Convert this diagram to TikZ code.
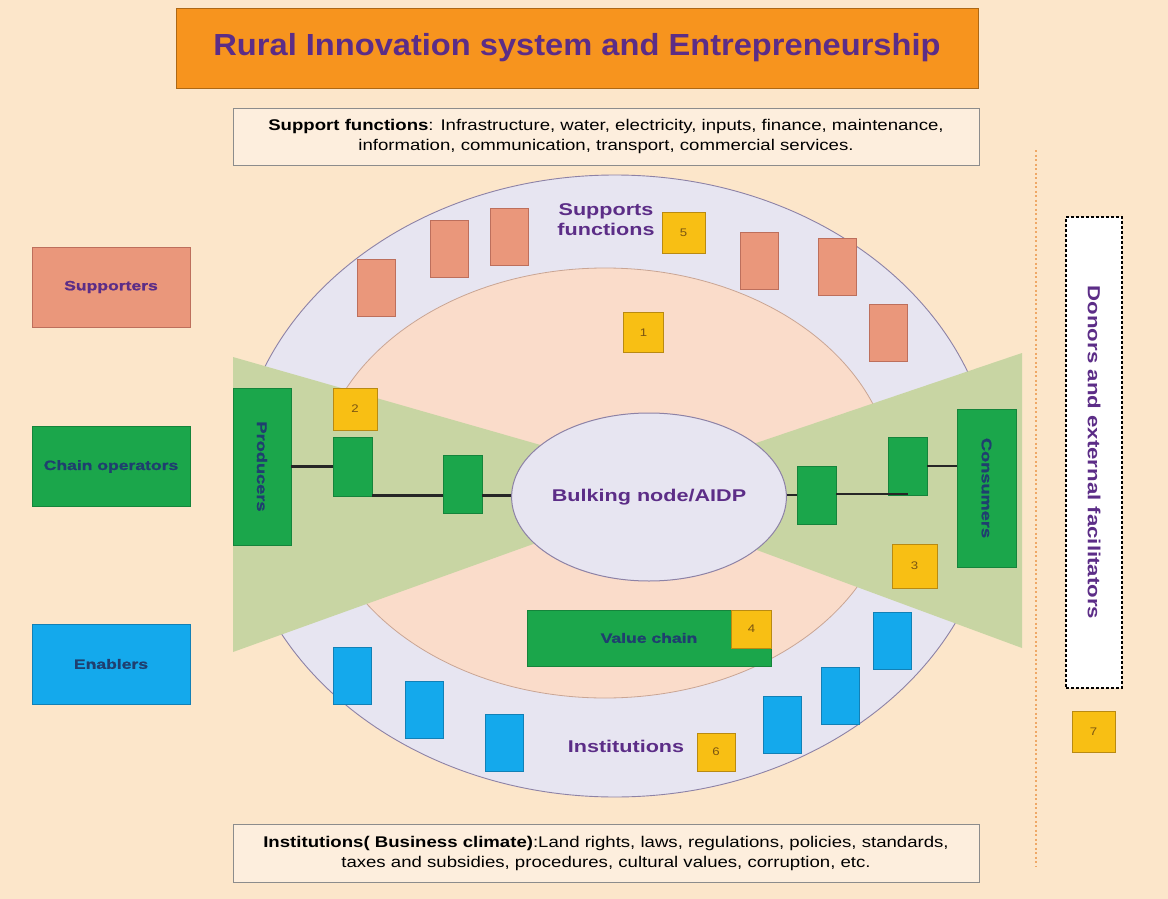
\documentclass[tikz,border=0pt]{standalone}
\usepackage{fontspec}
\setmainfont{Liberation Sans}
% widened faces for the running text and the labels
\newfontfamily\wideplain[FakeStretch=1.2]{Liberation Sans}
\newfontfamily\widetitle[FakeStretch=1.07]{Liberation Sans}
\newfontfamily\widelabel[FakeStretch=1.27]{Liberation Sans}
\newfontfamily\heavylabel[FakeStretch=1.3,FakeBold=1.2]{Liberation Sans}
\usetikzlibrary{shapes.geometric}
\definecolor{bgpeach}{HTML}{FCE6CA}
\definecolor{panel}{HTML}{FDEEDD}
\definecolor{titleorange}{HTML}{F7941E}
\definecolor{deeppurple}{HTML}{5C2D87}
\definecolor{ringlav}{HTML}{E7E5F1}
\definecolor{ringedge}{HTML}{8D82A6}
\definecolor{corepink}{HTML}{FADCCA}
\definecolor{coreedge}{HTML}{C9A594}
\definecolor{wing}{HTML}{C8D5A3}
\definecolor{opgreen}{HTML}{1BA64B}
\definecolor{opgreenedge}{HTML}{15843B}
\definecolor{salmon}{HTML}{EA977B}
\definecolor{salmonedge}{HTML}{BD6F5C}
\definecolor{skyblue}{HTML}{14A9EC}
\definecolor{skyedge}{HTML}{1280B6}
\definecolor{tagyellow}{HTML}{F8BF14}
\definecolor{tagedge}{HTML}{B98A12}
\definecolor{tagtext}{HTML}{7A5512}
\definecolor{navytext}{HTML}{1F3F6F}
\definecolor{dotorange}{HTML}{EFA866}
\tikzset{
  block/.style={draw, line width=0.8pt, inner sep=0pt},
  legend/.style={block, minimum width=158pt, minimum height=80pt, font=\heavylabel\bfseries\fontsize{13.5}{16}\selectfont},
  supbar/.style={block, fill=salmon, draw=salmonedge, minimum width=38pt, minimum height=57pt},
  insbar/.style={block, fill=skyblue, draw=skyedge, minimum width=38pt, minimum height=57pt},
  opbar/.style={block, fill=opgreen, draw=opgreenedge, minimum width=38pt, minimum height=58pt},
  tag/.style={block, fill=tagyellow, draw=tagedge, minimum width=40pt, minimum height=40pt, text=tagtext, font=\wideplain\fontsize{11}{13}\selectfont},
  link/.style={line width=2.2pt, draw=black!85},
  ringlabel/.style={text=deeppurple, font=\widelabel\bfseries\fontsize{17}{20}\selectfont, align=center}
}
\begin{document}
\begin{tikzpicture}[x=1pt,y=-1pt]
\useasboundingbox (0,0) rectangle (1168,899);
\fill[bgpeach] (0,0) rectangle (1168,899);

% title and description panels
\node[block, fill=titleorange, draw=titleorange!70!black, minimum width=802pt, minimum height=80pt,
      text=deeppurple, font=\widetitle\bfseries\fontsize{30.5}{34}\selectfont] (title) at (577,48)
  {Rural Innovation system and Entrepreneurship};
\node[block, fill=panel, draw=black!45, minimum width=746pt, minimum height=57pt, align=center,
      font=\wideplain\fontsize{15.5}{20}\selectfont] (supbox) at (606,136.5)
  {\textbf{Support functions}: Infrastructure, water, electricity, inputs, finance, maintenance,\\
   information, communication, transport, commercial services.};
\node[block, fill=panel, draw=black!45, minimum width=746pt, minimum height=58pt, align=center,
      font=\wideplain\fontsize{15.5}{20}\selectfont] (insbox) at (606,853)
  {\textbf{Institutions( Business climate)}:Land rights, laws, regulations, policies, standards,\\
   taxes and subsidies, procedures, cultural values, corruption, etc.};

% legend
\node[legend, fill=salmon, draw=salmonedge, text=deeppurple] (lsup) at (111,287) {Supporters};
\node[legend, fill=opgreen, draw=opgreenedge, text=navytext] (lop) at (111,466.5) {Chain operators};
\node[legend, fill=skyblue, draw=skyedge, text=navytext] (len) at (111,664) {Enablers};

% rings
\node[ellipse, draw=ringedge, line width=0.9pt, fill=ringlav, inner sep=0pt, minimum width=758pt, minimum height=622pt] (outer) at (615,486) {};
\node[ellipse, draw=coreedge, line width=0.8pt, fill=corepink, inner sep=0pt, minimum width=576pt, minimum height=430pt] (inner) at (605,483) {};

% value-chain wings
\fill[wing] (233,357) -- (600,462) -- (600,520) -- (233,652) -- cycle;
\fill[wing] (1022,353) -- (700,462) -- (700,529) -- (1022,648) -- cycle;

% bulking node
\node[ellipse, draw=ringedge, line width=1pt, fill=ringlav, inner sep=0pt, minimum width=257pt, minimum height=168pt,
      text=deeppurple, font=\widelabel\bfseries\fontsize{17}{20}\selectfont] (bulk) at (649,497) {Bulking node/AIDP};

% producers and consumers
\node[block, fill=opgreen, draw=opgreenedge, minimum width=58pt, minimum height=157pt, text=navytext,
      font=\heavylabel\bfseries\fontsize{14}{17}\selectfont] (prod) at (262,466.5) {\rotatebox{-90}{Producers}};
\node[block, fill=opgreen, draw=opgreenedge, minimum width=59pt, minimum height=158pt, text=navytext,
      font=\heavylabel\bfseries\fontsize{14}{17}\selectfont] (cons) at (986.5,488) {\rotatebox{-90}{Consumers}};

% chain operators
\node[opbar, minimum width=39pt, minimum height=59pt] (g1) at (352.5,466.5) {};
\node[opbar, minimum width=39pt, minimum height=58pt] (g2) at (462.5,484) {};
\node[opbar, minimum width=39pt] (g3) at (816.5,495) {};
\node[opbar, minimum width=39pt] (g4) at (907.5,466) {};

\draw[link] (prod.east |- g1.west) -- (g1.west);
\draw[link] ([yshift=1pt]g1.south east) -- ([yshift=1pt]g1.south east -| g2.west);
\draw[link] ([yshift=1pt]g2.east |- g1.south east) -- ([yshift=1pt]g1.south east -| bulk.west);
\draw[link] (g3.west -| bulk.east) -- (g3.west);
\draw[link] ([yshift=1pt]g3.east) -- ([yshift=1pt]g3.east -| g4.center);
\draw[link] (g4.east) -- (g4.east -| cons.west);

% value chain bar
\node[block, fill=opgreen, draw=opgreenedge, minimum width=244pt, minimum height=56pt, text=navytext,
      font=\heavylabel\bfseries\fontsize{13.5}{16}\selectfont] (vchain) at (649,638) {Value chain};

% supporters in the upper ring
\node[supbar] (s1) at (376.5,287.5) {};
\node[supbar] (s2) at (449,248.5) {};
\node[supbar] (s3) at (509,236.5) {};
\node[supbar] (s4) at (759.5,260.5) {};
\node[supbar] (s5) at (837,267) {};
\node[supbar] (s6) at (888,332.5) {};
\node[ringlabel] (suplabel) at (606,220) {Supports\\[0pt]functions};

% enablers in the lower ring
\node[insbar] (b1) at (352.5,676) {};
\node[insbar] (b2) at (424,709.5) {};
\node[insbar] (b3) at (504.5,742.5) {};
\node[insbar] (b4) at (782,724.5) {};
\node[insbar] (b5) at (840,696) {};
\node[insbar] (b6) at (892,640.5) {};
\node[ringlabel] (inslabel) at (626,746) {Institutions};

% numbered tags
\node[tag] (n1) at (643.5,332.5) {1};
\node[tag, minimum width=44pt, minimum height=42pt] (n2) at (355,409) {2};
\node[tag, minimum width=45pt, minimum height=44pt] (n3) at (914.5,566) {3};
\node[tag, minimum height=38pt] (n4) at (751.5,629) {4};
\node[tag, minimum width=43pt, minimum height=41pt] (n5) at (683.5,232.5) {5};
\node[tag, minimum width=38pt, minimum height=38pt] (n6) at (716,752) {6};
\node[tag, minimum width=43pt, minimum height=41pt] (n7) at (1093.5,731.5) {7};

% external actors
\draw[dotorange, line width=2pt, dash pattern=on 2pt off 2.5pt] (1036,150) -- (1036,866);
\node[draw=black, line width=2.5pt, dash pattern=on 3pt off 2pt, fill=white, minimum width=56pt, minimum height=471pt,
      inner sep=0pt, text=deeppurple, font=\widelabel\bfseries\fontsize{17.5}{20}\selectfont] (donors) at (1094,452.5)
  {\rotatebox{-90}{Donors and external facilitators}};
\end{tikzpicture}
\end{document}
